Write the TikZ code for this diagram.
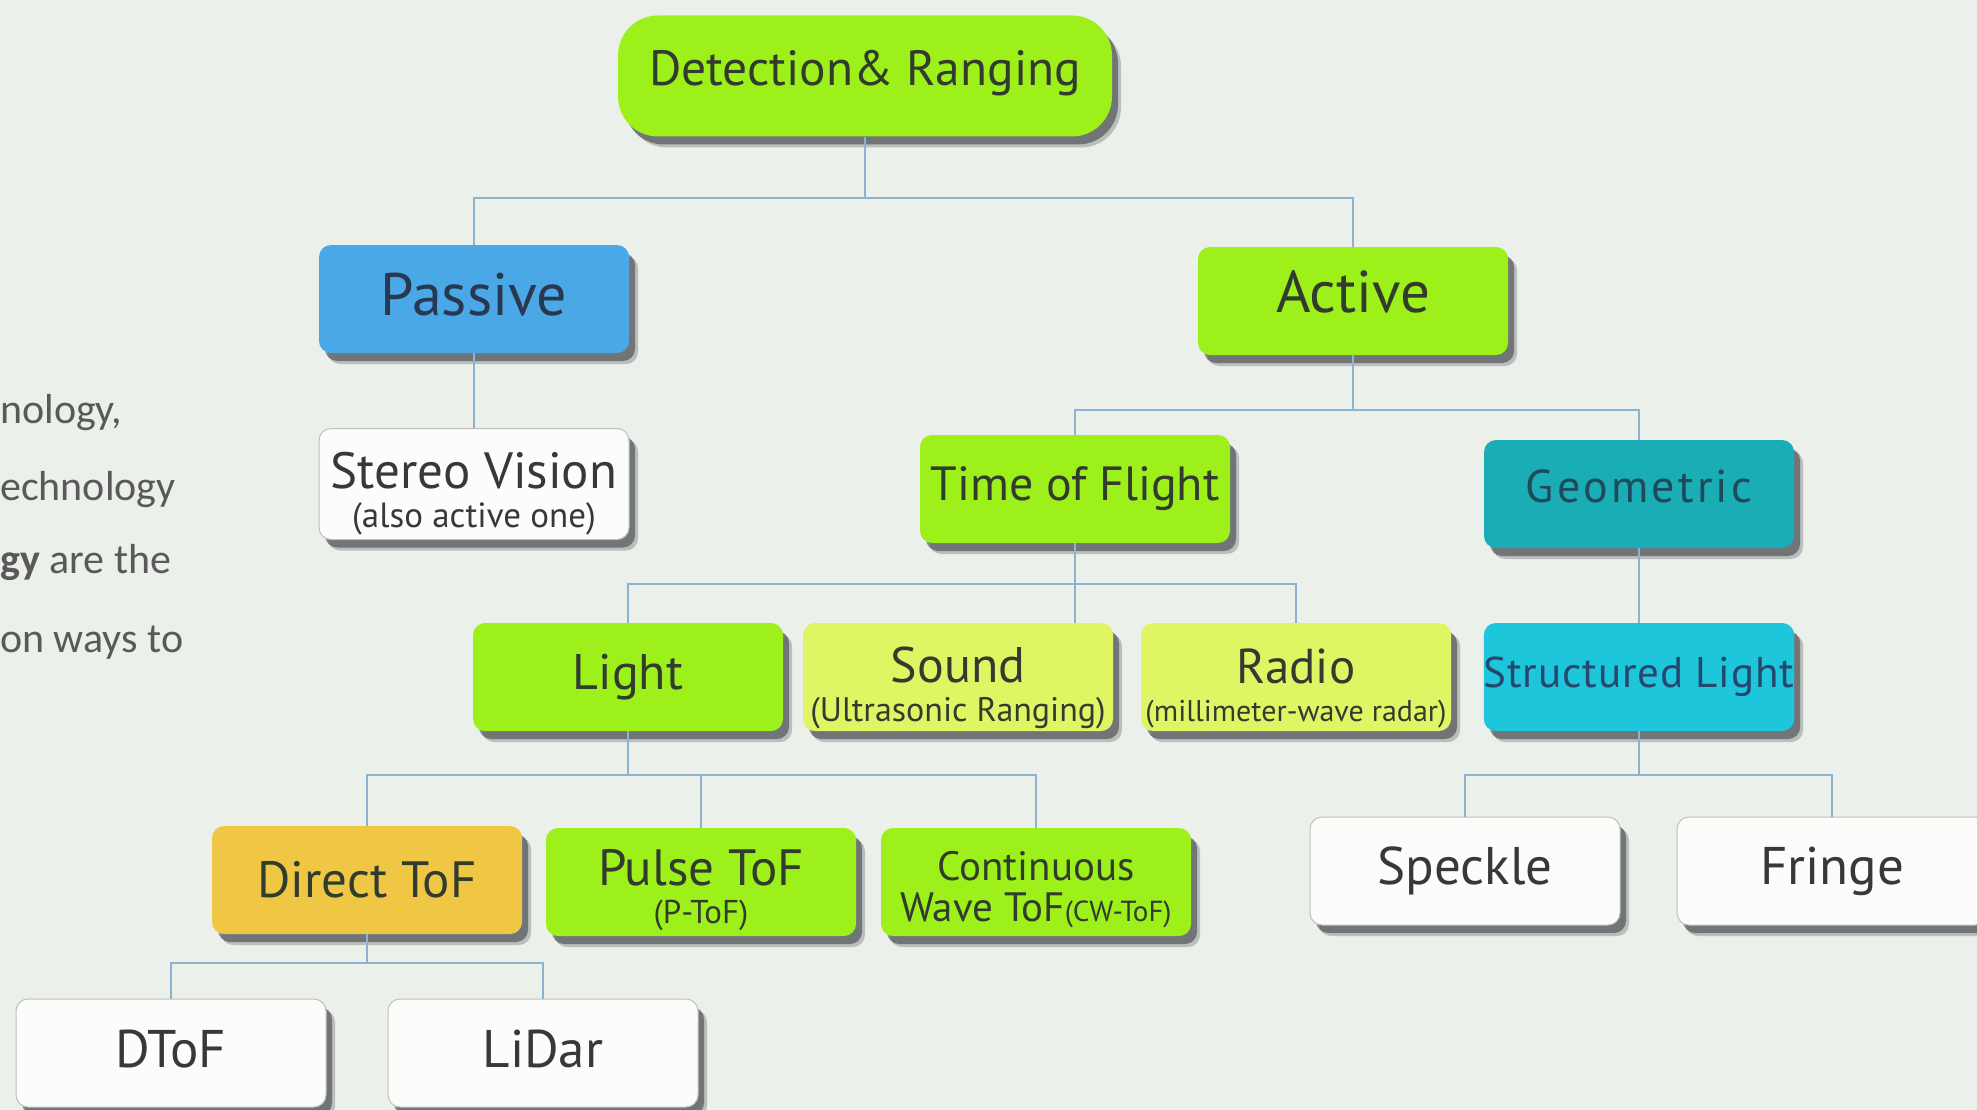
\documentclass[tikz,border=0pt]{standalone}
\usepackage{fontspec}
\setmainfont{PT Sans}
\newfontfamily\leftfont{Carlito}
\usetikzlibrary{shadows}
\definecolor{bg}{HTML}{ECF0EA}
\definecolor{limeg}{HTML}{9DF019}
\definecolor{paleg}{HTML}{DFF564}
\definecolor{blueb}{HTML}{4BA8E6}
\definecolor{tealb}{HTML}{1BADB5}
\definecolor{cyanb}{HTML}{1DC6DA}
\definecolor{goldb}{HTML}{F0C745}
\definecolor{whiteb}{HTML}{FCFCFA}
\definecolor{linec}{HTML}{8DB2D0}
\definecolor{txt}{HTML}{323C2E}
\definecolor{greytxt}{HTML}{595959}
\definecolor{shad}{HTML}{2A2D35}
\definecolor{bluetxt}{HTML}{283850}
\definecolor{tealtxt}{HTML}{1F4A5A}
\definecolor{cyantxt}{HTML}{24486E}
\newcommand{\updepth}[1]{\rule[-#1pt]{0pt}{#1pt}}
\newcommand{\topstrut}[1]{\rule{0pt}{#1pt}}
\tikzset{
  box/.style={rounded corners=12pt, minimum width=310pt, minimum height=108pt,
    inner sep=0pt, align=center, text=txt,
    font=\fontsize{46}{48}\selectfont,
    drop shadow={shadow xshift=9pt, shadow yshift=-11pt, fill=shad, opacity=0.25},
    drop shadow={shadow xshift=6pt, shadow yshift=-8pt, fill=shad, opacity=0.5}},
  limebox/.style={box, fill=limeg},
  palebox/.style={box, fill=paleg},
  whitebox/.style={box, fill=whiteb, draw=black!25, line width=1pt, text=black!78,
    font=\fontsize{53}{55}\selectfont},
  conn/.style={draw=linec, line width=2pt},
  lefttext/.style={anchor=base west, inner sep=0pt, text=greytxt, font=\leftfont\fontsize{42}{44}\selectfont},
}
\begin{document}
\begin{tikzpicture}[x=1pt, y=-1pt]
\useasboundingbox (0,0) rectangle (1977,1110);
\fill[bg] (0,0) rectangle (1977,1110);
\clip (0,0) rectangle (1977,1110);

% left text
\node[lefttext] (t1) at (0,423) {nology,};
\node[lefttext] (t2) at (0,500) {echnology};
\node[lefttext] (t3) at (0,573) {{\bfseries gy} are the};
\node[lefttext] (t4) at (0,652) {on ways to};

% nodes
\node[limebox, minimum width=494pt, minimum height=121pt, rounded corners=40pt,
      font=\fontsize{49.5}{52}\selectfont] (det) at (865,76) {Detection\& Ranging\updepth{16}};
\node[box, fill=blueb, text=bluetxt, font=\fontsize{60}{62}\selectfont] (passive) at (474,299) {Passive\updepth{10}};
\node[limebox, font=\fontsize{59}{61}\selectfont] (active) at (1353,301) {Active\updepth{18}};
\node[whitebox, minimum height=111pt, font=\fontsize{51}{39}\selectfont] (stereo) at (474,484)
  {\topstrut{55}Stereo Vision\\{\fontsize{35}{39}\selectfont (also active one)}};
\node[limebox, font=\fontsize{48}{50}\selectfont] (tof) at (1075,489) {Time of Flight};
\node[box, fill=tealb, text=tealtxt, font=\fontsize{46}{48}\selectfont\addfontfeature{LetterSpace=7}] (geo) at (1639,494) {Geometric\updepth{16}};

\node[limebox, font=\fontsize{50}{52}\selectfont] (light) at (628,677) {Light};
\node[palebox, font=\fontsize{50}{39}\selectfont] (sound) at (958,677)
  {\topstrut{57}Sound\\{\fontsize{34}{39}\selectfont (Ultrasonic Ranging)}};
\node[palebox, font=\fontsize{49}{38}\selectfont] (radio) at (1296,677)
  {\topstrut{58}Radio\\{\fontsize{30}{38}\selectfont (millimeter-wave radar)}};
\node[box, fill=cyanb, text=cyantxt, font=\fontsize{43}{45}\selectfont\addfontfeature{LetterSpace=2}] (sl) at (1639,677) {Structured Light};

\node[box, fill=goldb, font=\fontsize{51}{53}\selectfont] (direct) at (367,880) {Direct ToF};
\node[limebox, font=\fontsize{51}{38}\selectfont] (pulse) at (701,882)
  {\topstrut{53}Pulse ToF\\{\fontsize{33}{38}\selectfont (P-ToF)}};
\node[limebox, font=\fontsize{41}{41}\selectfont] (cw) at (1036,882)
  {\topstrut{44}Continuous\\Wave ToF{\fontsize{29}{41}\selectfont(CW-ToF)}};

\node[whitebox] (speckle) at (1465,871) {Speckle};
\node[whitebox] (fringe) at (1832,871) {Fringe};

\node[whitebox] (dtof) at (171,1053) {DToF\updepth{8}};
\node[whitebox] (lidar) at (543,1053) {LiDar\updepth{8}};

% connectors
\draw[conn] (det.south) -- ++(0,61) -| (passive.north);
\draw[conn] (det.south) -- ++(0,61) -| (active.north);
\draw[conn] (passive.south) -- (stereo.north);
\draw[conn] (active.south) -- ++(0,55) -| (tof.north);
\draw[conn] (active.south) -- ++(0,55) -| (geo.north);
\draw[conn] (tof.south) -- ++(0,41) -| (light.north);
\draw[conn] (tof.south) -- (tof.south |- sound.north);
\draw[conn] (tof.south) -- ++(0,41) -| (radio.north);
\draw[conn] (geo.south) -- (sl.north);
\draw[conn] (light.south) -- ++(0,44) -| (direct.north);
\draw[conn] (light.south) -- ++(0,44) -| (pulse.north);
\draw[conn] (light.south) -- ++(0,44) -| (cw.north);
\draw[conn] (sl.south) -- ++(0,44) -| (speckle.north);
\draw[conn] (sl.south) -- ++(0,44) -| (fringe.north);
\draw[conn] (direct.south) -- ++(0,29) -| (dtof.north);
\draw[conn] (direct.south) -- ++(0,29) -| (lidar.north);
\end{tikzpicture}
\end{document}
